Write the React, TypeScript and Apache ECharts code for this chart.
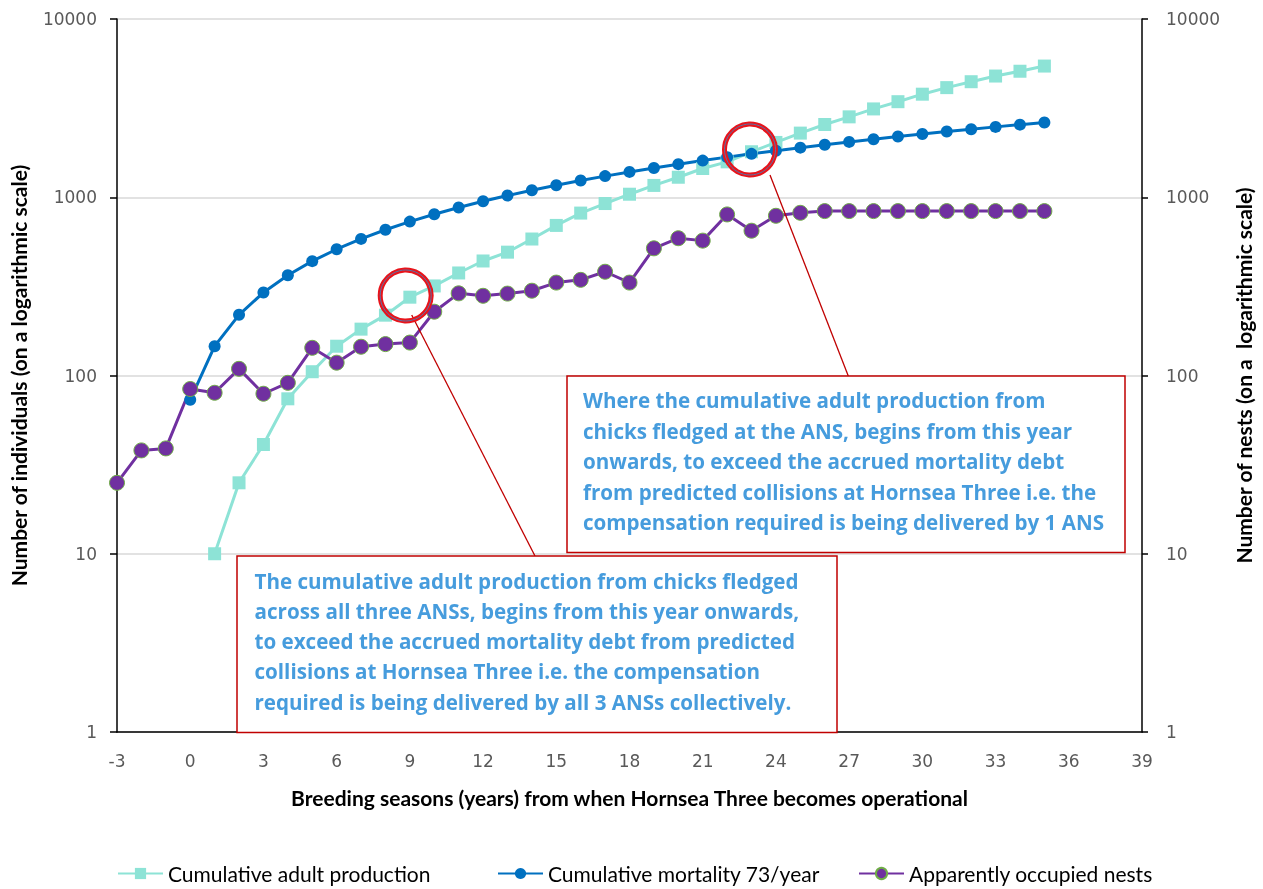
import React, { useEffect, useRef } from "react";
import * as echarts from "echarts";

const years = [-3, -2, -1, 0, 1, 2, 3, 4, 5, 6, 7, 8, 9, 10, 11, 12, 13, 14, 15, 16, 17, 18, 19, 20, 21, 22, 23, 24, 25, 26, 27, 28, 29, 30, 31, 32, 33, 34, 35];

const production = [null, null, null, null, 10, 25, 41, 74, 105, 146, 182, 218, 275, 318, 376, 439, 492, 583, 695, 815, 922, 1040, 1165, 1295, 1450, 1580, 1800, 2030, 2290, 2560, 2825, 3130, 3436, 3786, 4121, 4448, 4786, 5093, 5445];

const mortality = [null, null, null, 73, 146, 219, 292, 365, 438, 511, 584, 657, 730, 803, 876, 949, 1022, 1095, 1168, 1241, 1314, 1387, 1460, 1533, 1606, 1679, 1752, 1825, 1898, 1971, 2044, 2117, 2190, 2263, 2336, 2409, 2482, 2555, 2628];

const nests = [25, 38, 39, 84, 80, 109, 79, 91, 143, 118, 145, 150, 153, 228, 289, 280, 288, 299, 332, 344, 382, 332, 517, 589, 571, 801, 649, 787, 818, 836, 836, 836, 836, 836, 836, 836, 836, 836, 836];

const seriesNames = ["Cumulative adult production", "Cumulative mortality 73/year", "Apparently occupied nests"];

const xTitle = "Breeding seasons (years) from when Hornsea Three becomes operational";
const yLeftTitle = "Number of individuals (on a logarithmic scale)";
const yRightTitle = "Number of nests (on a  logarithmic scale)";

const note1Lines = [
  "Where the cumulative adult production from",
  "chicks fledged at the ANS, begins from this year",
  "onwards, to exceed the accrued mortality debt",
  "from predicted collisions at Hornsea Three i.e. the",
  "compensation required is being delivered by 1 ANS",
];
const note2Lines = [
  "The cumulative adult production from chicks fledged",
  "across all three ANSs, begins from this year onwards,",
  "to exceed the accrued mortality debt from predicted",
  "collisions at Hornsea Three i.e. the compensation",
  "required is being delivered by all 3 ANSs collectively.",
];

const pair = (arr: (number | null)[]) => years.map((y, i) => [y, arr[i]]);

export default function App() {
  const ref = useRef<HTMLDivElement>(null);
  useEffect(() => {
    if (!ref.current) return;
    const chart = echarts.init(ref.current, null, { renderer: "svg" });
    const tickFont = { fontFamily: "DejaVu Sans", fontSize: 17, color: "#595959" };
    const titleFont = { fontFamily: "Lato", fontWeight: "bold" as const, fontSize: 21, color: "#000" };
    const noteText = (lines: string[], x: number, y0: number, dy: number) =>
      lines.map((t, i) => ({
        type: "text",
        z: 110,
        style: {
          text: t,
          x,
          y: y0 + i * dy,
          fill: "#469CDD",
          fontFamily: "Open Sans",
          fontWeight: "bold",
          fontSize: 20.6,
          align: "left",
          verticalAlign: "middle",
        },
      }));
    const ring = (cx: number, cy: number) => [
      { type: "circle", z: 105, shape: { cx, cy, r: 25.5 }, style: { fill: "none", stroke: "#E8141B", lineWidth: 5 } },
      { type: "circle", z: 106, shape: { cx, cy, r: 25.5 }, style: { fill: "none", stroke: "#5A74A8", lineWidth: 1 } },
    ];
    const fmt = (v: number) => String(v);
    const legendBase = {
      bottom: 0,
      itemWidth: 45,
      itemHeight: 14,
      textStyle: { fontFamily: "Lato", fontSize: 21, color: "#000" },
    };
    chart.setOption({
      animation: false,
      grid: { left: 117, right: 121, top: 19, bottom: 157, containLabel: false, outerBoundsMode: "none" },
      legend: [
        { ...legendBase, left: 112, data: [seriesNames[0]] },
        { ...legendBase, left: 492, data: [seriesNames[1]] },
        { ...legendBase, left: 853, data: [seriesNames[2]] },
      ],
      xAxis: {
        type: "value",
        min: -3,
        max: 39,
        interval: 3,
        axisLine: { show: true, onZero: false, lineStyle: { color: "#000", width: 1.5 } },
        axisTick: { show: false },
        splitLine: { show: false },
        axisLabel: { ...tickFont, margin: 20, formatter: fmt },
        name: xTitle,
        nameLocation: "middle",
        nameGap: 55,
        nameTextStyle: titleFont,
      },
      yAxis: [
        {
          type: "log",
          logBase: 10,
          min: 1,
          max: 10000,
          position: "left",
          axisLine: { show: true, onZero: false, lineStyle: { color: "#000", width: 1.5 } },
          axisTick: { show: true, length: 7, lineStyle: { color: "#000", width: 1.5 } },
          splitLine: { show: true, lineStyle: { color: "#D9D9D9", width: 1.5 } },
          axisLabel: { ...tickFont, margin: 20, formatter: fmt },
          name: yLeftTitle,
          nameLocation: "middle",
          nameGap: 88,
          nameRotate: 90,
          nameTextStyle: titleFont,
        },
        {
          type: "log",
          logBase: 10,
          min: 1,
          max: 10000,
          position: "right",
          axisLine: { show: true, onZero: false, lineStyle: { color: "#000", width: 1.5 } },
          axisTick: { show: true, length: 6, lineStyle: { color: "#000", width: 1.5 } },
          splitLine: { show: false },
          axisLabel: { ...tickFont, margin: 24, formatter: fmt },
          name: yRightTitle,
          nameLocation: "middle",
          nameGap: 91,
          nameRotate: 90,
          nameTextStyle: titleFont,
        },
      ],
      series: [
        {
          name: seriesNames[0],
          type: "line",
          yAxisIndex: 0,
          data: pair(production),
          symbol: "rect",
          symbolSize: 13,
          lineStyle: { color: "#8DE3D6", width: 3 },
          itemStyle: { color: "#8DE3D6" },
          connectNulls: false,
        },
        {
          name: seriesNames[1],
          type: "line",
          yAxisIndex: 0,
          data: pair(mortality),
          symbol: "circle",
          symbolSize: 12,
          lineStyle: { color: "#0070C0", width: 3 },
          itemStyle: { color: "#0070C0" },
        },
        {
          name: seriesNames[2],
          type: "line",
          yAxisIndex: 1,
          data: pair(nests),
          symbol: "circle",
          symbolSize: 15,
          lineStyle: { color: "#7030A0", width: 3 },
          itemStyle: { color: "#7030A0", borderColor: "#70AD47", borderWidth: 1 },
        },
      ],
      graphic: [
        ...ring(405.7, 295.5),
        ...ring(750, 149.5),
        { type: "line", z: 104, shape: { x1: 411.7, y1: 315, x2: 535, y2: 556 }, style: { stroke: "#C00000", lineWidth: 1.3 } },
        { type: "line", z: 104, shape: { x1: 770, y1: 175, x2: 848.3, y2: 376 }, style: { stroke: "#C00000", lineWidth: 1.3 } },
        { type: "rect", z: 107, shape: { x: 567, y: 376, width: 558, height: 176.5 }, style: { fill: "#fff", stroke: "#C00000", lineWidth: 1.5 } },
        { type: "rect", z: 107, shape: { x: 237, y: 556, width: 600, height: 176.5 }, style: { fill: "#fff", stroke: "#C00000", lineWidth: 1.5 } },
        ...noteText(note1Lines, 583, 400, 30.5),
        ...noteText(note2Lines, 254.5, 580.5, 30.3),
      ],
    });
    return () => chart.dispose();
  }, []);
  return <div ref={ref} style={{ position: "fixed", left: 0, top: 0, width: 1263, height: 889 }} />;
}
